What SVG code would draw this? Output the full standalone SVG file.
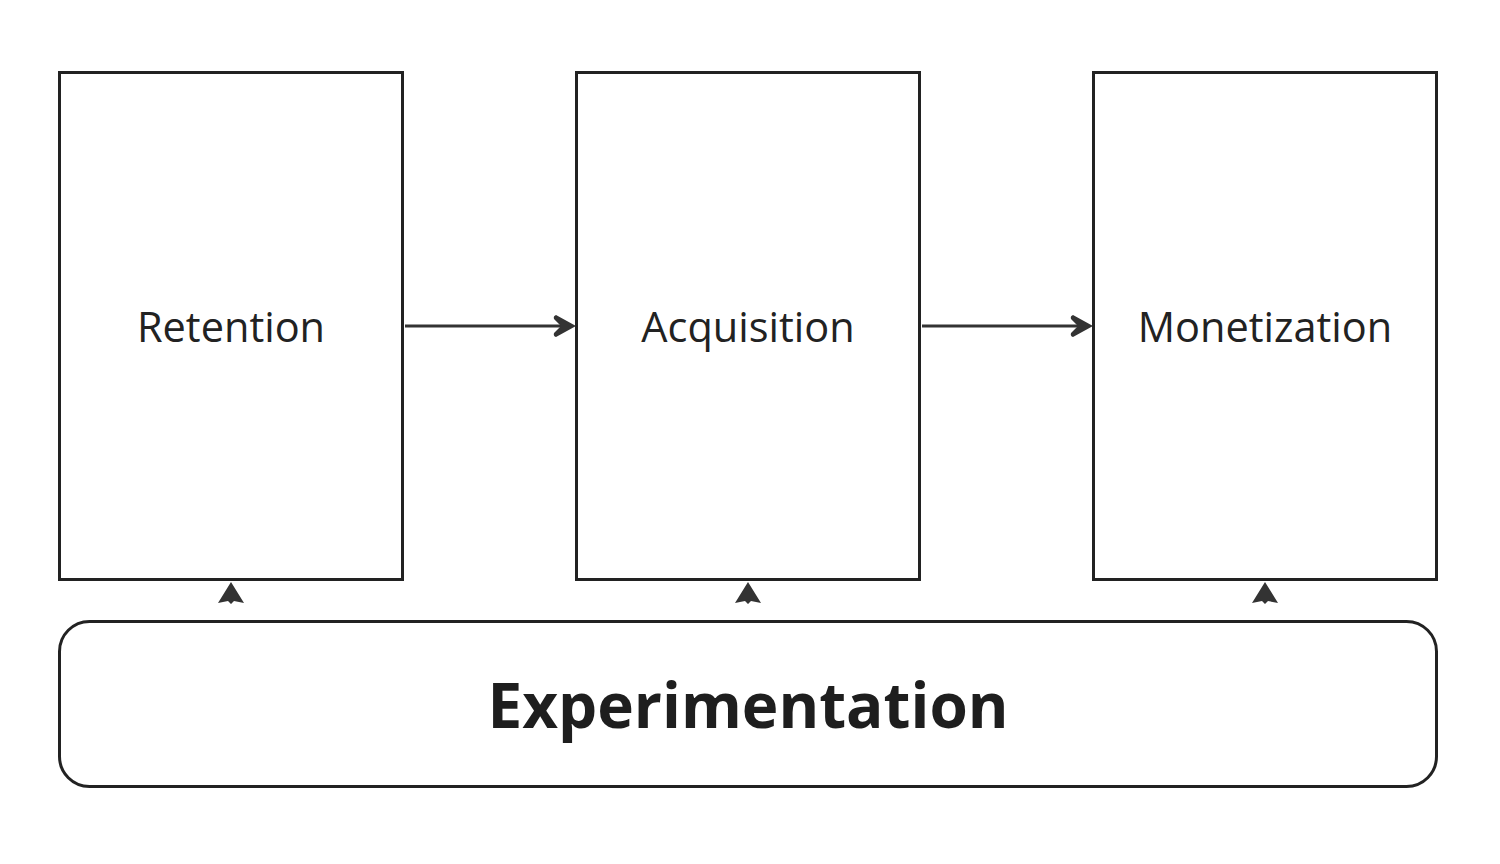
<svg xmlns="http://www.w3.org/2000/svg" width="1500" height="864" viewBox="0 0 1500 864">
<style>
.box{fill:#fff;stroke:#222;stroke-width:3}
.lbl{font-family:"Open Sans",sans-serif;font-size:41.5px;fill:#222;text-anchor:middle}
.big{font-family:"Open Sans",sans-serif;font-size:62px;font-weight:bold;fill:#1e1e1e;text-anchor:middle}
.ln{stroke:#333;stroke-width:3;fill:none}
.hd{fill:#333}
</style>
<rect width="1500" height="864" fill="#fff"/>
<g id="retention"><rect class="box" x="59.500" y="72.500" width="343" height="507"/><text class="lbl" x="231" y="342">Retention</text></g>
<g id="acquisition"><rect class="box" x="576.500" y="72.500" width="343" height="507"/><text class="lbl" x="748" y="342">Acquisition</text></g>
<g id="monetization"><rect class="box" x="1093.500" y="72.500" width="343" height="507"/><text class="lbl" x="1265" y="342">Monetization</text></g>
<g id="experimentation"><rect class="box" x="59.500" y="621.500" width="1377" height="165" rx="30"/><text class="big" x="748" y="728">Experimentation</text></g>
<g id="connectors">
<line class="ln" x1="405" y1="326" x2="570" y2="326"/>
<path class="hd" d="M576 326 L556 337 Q553 336 554 333 L561 326 L554 319 Q553 316 556 315 Z"/>
<line class="ln" x1="922" y1="326" x2="1087" y2="326"/>
<path class="hd" d="M1093 326 L1073 337 Q1070 336 1071 333 L1078 326 L1071 319 Q1070 316 1073 315 Z"/>
<path class="hd" d="M231 582 L244 603 L234 601 L231 604 L228 601 L218 603 Z"/>
<path class="hd" d="M748 582 L761 603 L751 601 L748 604 L745 601 L735 603 Z"/>
<path class="hd" d="M1265 582 L1278 603 L1268 601 L1265 604 L1262 601 L1252 603 Z"/>
</g>
</svg>
